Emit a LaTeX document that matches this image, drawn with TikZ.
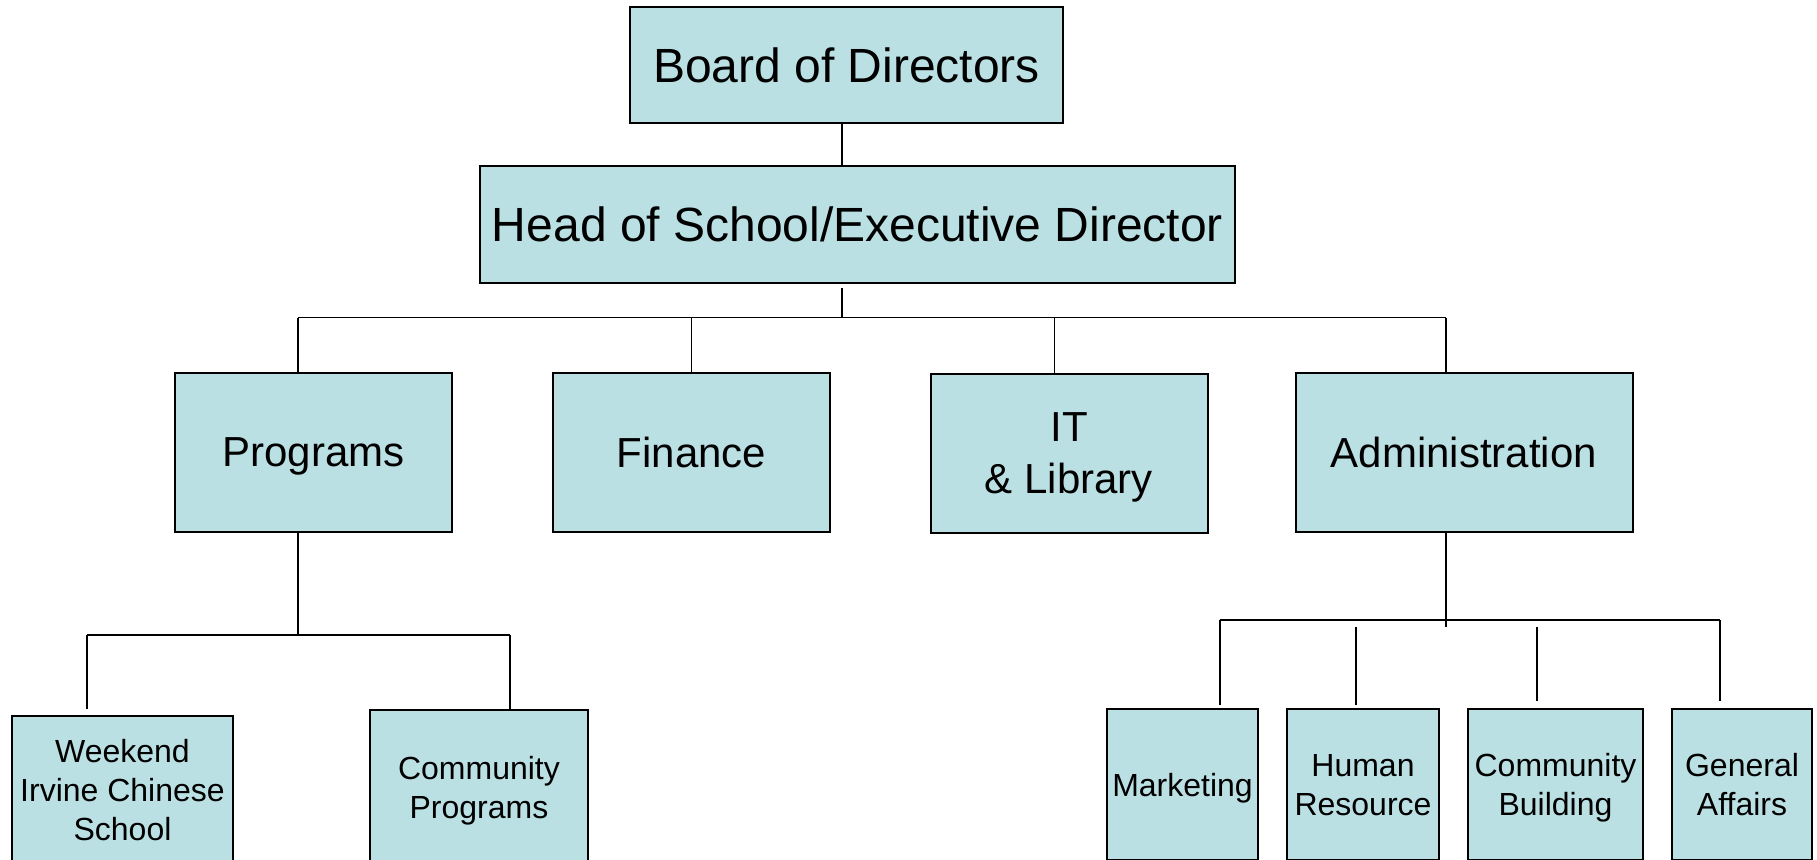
\documentclass[tikz,border=0pt]{standalone}
\usepackage{fontspec}
\setmainfont{Liberation Sans}
\usepackage{tikz}
\usetikzlibrary{positioning,calc}
\usepackage{xcolor}
\definecolor{boxblue}{RGB}{187,224,227}

\begin{document}
\begin{tikzpicture}[
    x=0.5pt, y=-0.5pt,
    box/.style={rectangle, draw, line width=1pt, fill=boxblue, align=center, inner sep=0pt},
    headbox/.style={box, font=\fontsize{24}{29}\selectfont},
    deptbox/.style={box, text depth=0pt, font=\fontsize{21}{26}\selectfont, minimum width=138.5pt, minimum height=79.5pt},
    unitbox/.style={box, text depth=0pt, font=\fontsize{16}{19.5}\selectfont},
    link/.style={line width=0.8pt}
]
    \useasboundingbox (0,0) rectangle (1817,859);

    \node[headbox, minimum width=216.5pt, minimum height=58pt] (board) at (846.5,65) {Board of Directors};
    \node[headbox, minimum width=377.5pt, minimum height=58.5pt] (head) at (857.5,224.5) {Head of School/Executive Director};

    \node[deptbox] (programs) at (313.5,452.5) {Programs};
    \node[deptbox] (finance) at (691.5,452.5) {Finance};
    \node[deptbox] (it) at (1069,453) {IT\\ \& Library};
    \node[deptbox, minimum width=168.5pt] (admin) at (1464,452.5) {Administration};

    \node[unitbox, minimum width=110.5pt, minimum height=74pt] (weekend) at (122.5,790) {Weekend\\Irvine Chinese\\School};
    \node[unitbox, minimum width=109pt, minimum height=77pt] (commprog) at (479,787) {Community\\Programs};

    \node[unitbox, minimum width=75.5pt, minimum height=75.5pt] (marketing) at (1182.5,784.5) {Marketing};
    \node[unitbox, minimum width=76pt, minimum height=75.5pt] (hr) at (1363,784.5) {Human\\Resource};
    \node[unitbox, minimum width=87.5pt, minimum height=75.5pt] (commbuild) at (1555.5,784.5) {Community\\Building};
    \node[unitbox, minimum width=70pt, minimum height=75.5pt] (affairs) at (1742,784.5) {General\\Affairs};

    % top links
    \coordinate (hub) at (842,317.5);
    \coordinate (busL) at (298,317.5);
    \coordinate (busR) at (1446,317.5);
    \coordinate (itdrop) at (1054.5,317.5);
    \draw[link] (hub |- board.south) -- (hub |- head.north);
    \draw[link] ($(hub |- head.south)+(0,4)$) -- (hub);
    \draw[link] (busL) -- (busR);
    \draw[link] (busL) -- (busL |- programs.north);
    \draw[link] (finance.north |- busL) -- (finance.north);
    \draw[link] (itdrop) -- (itdrop |- it.north);
    \draw[link] (busR) -- (busR |- admin.north);

    % programs
    \coordinate (pbus) at (298,635);
    \coordinate (pbusL) at (87,635);
    \coordinate (pbusR) at (510,635);
    \draw[link] (pbus |- programs.south) -- (pbus);
    \draw[link] (pbusL) -- (pbusR);
    \draw[link] (pbusL) -- ($(pbusL |- weekend.north)+(0,-6)$);
    \draw[link] (pbusR) -- (pbusR |- commprog.north);

    % administration
    \coordinate (abusL) at (1220,620);
    \coordinate (abusR) at (1720,620);
    \coordinate (aend) at (1446,627);
    \coordinate (hrtop) at (1356,627);
    \coordinate (cbtop) at (1537,627);
    \draw[link] (aend |- admin.south) -- (aend);
    \draw[link] (abusL) -- (abusR);
    \draw[link] (abusL) -- ($(abusL |- marketing.north)+(0,-3)$);
    \draw[link] (hrtop) -- ($(hrtop |- hr.north)+(0,-3)$);
    \draw[link] (cbtop) -- ($(cbtop |- commbuild.north)+(0,-7)$);
    \draw[link] (abusR) -- ($(abusR |- affairs.north)+(0,-7)$);
\end{tikzpicture}
\end{document}
